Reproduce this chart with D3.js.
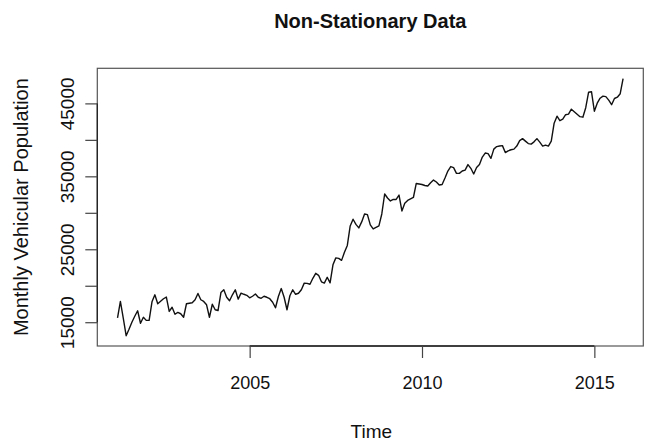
<!DOCTYPE html>
<html lang="en">

<head>
    <meta charset="utf-8" />
    <script src="https://d3js.org/d3.v7.min.js"></script>
    <title>Non-Stationary Data</title>
    <style>
        body {
            margin: 0;
            background: #fff;
        }

        * {
            font-family: 'Liberation Sans', Arial, sans-serif;
        }
    </style>
</head>

<body>
    <div id="chart"></div>

    <script>
        // monthly series, starts March 2001
        var startYear = 2001;
        var startMonth = 3;
        var vehicles = [
            15580, 17850, 15550, 13150, 14040, 15000, 15820, 16570, 14860, 15680, 15250, 15250,
            17800, 18760, 17530, 17870, 18220, 18450, 16480, 17050, 16090, 16340, 16160, 15680,
            17530, 17600, 17670, 18080, 18940, 18080, 17850, 17390, 15680, 17460, 16710, 16610,
            19060, 19450, 18420, 17940, 18760, 19450, 18170, 18990, 18830, 18690, 18350, 18560,
            18860, 18420, 18280, 18560, 18420, 18220, 17740, 16980, 18530, 19610, 18420, 16710,
            18630, 19450, 18830, 18970, 19450, 20360, 20330, 20200, 21020, 21700, 21430, 20540,
            20360, 21160, 20400, 22870, 23820, 23760, 23480, 24580, 25530, 28200, 29120, 28410,
            27930, 28750, 29840, 29750, 28340, 27790, 28000, 28200, 29840, 32580, 32030, 31620,
            31830, 31830, 32440, 30250, 31310, 31690, 31900, 32100, 34020, 33950, 33880, 33740,
            33670, 34120, 34490, 34220, 33810, 33880, 34770, 35730, 36340, 36200, 35410, 35410,
            35730, 35860, 36610, 36100, 35320, 36200, 36610, 37640, 38190, 38120, 37460, 38730,
            39080, 39150, 39210, 38260, 38500, 38640, 38730, 39150, 39900, 40170, 39830, 39490,
            39420, 39730, 40170, 39690, 39150, 39280, 39150, 39830, 42290, 43250, 42630, 42840,
            43450, 43520, 44210, 43860, 43520, 43180, 43110, 44410, 46530, 46600, 43930, 45030,
            45710, 45990, 45920, 45440, 44820, 45670, 45850, 46330, 48400
        ];
        var xTicks = [2005, 2010, 2015];
        var yTicks = [15000, 20000, 25000, 30000, 35000, 40000, 45000];
        var yLabels = [15000, 25000, 35000, 45000];

        var data = vehicles.map(function (v, i) {
            return { t: startYear + (startMonth - 1) / 12 + i / 12, v: v };
        });

        var width = 650, height = 444;
        // plot box (window.top is reserved, so m- prefix)
        var mLeft = 97.3, mRight = 643.3, mTop = 68.3, mBottom = 346;

        var svg = d3.select("#chart")
            .append("svg")
            .attr("width", width)
            .attr("height", height);

        // R style 4% padding on both axes
        var tExt = d3.extent(data, function (d) { return d.t; });
        var vExt = d3.extent(data, function (d) { return d.v; });
        var tPad = (tExt[1] - tExt[0]) * 0.04;
        var vPad = (vExt[1] - vExt[0]) * 0.04;

        var x = d3.scaleLinear()
            .domain([tExt[0] - tPad, tExt[1] + tPad])
            .range([mLeft, mRight]);

        var y = d3.scaleLinear()
            .domain([vExt[0] - vPad, vExt[1] + vPad])
            .range([mBottom, mTop]);

        var line = d3.line()
            .x(function (d) { return x(d.t); })
            .y(function (d) { return y(d.v); });

        svg.append("path")
            .datum(data)
            .attr("d", line)
            .attr("fill", "none")
            .attr("stroke", "#111")
            .attr("stroke-width", 1.4)
            .attr("stroke-linejoin", "round");

        svg.append("rect")
            .attr("x", mLeft)
            .attr("y", mTop)
            .attr("width", mRight - mLeft)
            .attr("height", mBottom - mTop)
            .attr("fill", "none")
            .attr("stroke", "#555")
            .attr("stroke-width", 1.2);

        var xAxis = svg.append("g")
            .attr("transform", "translate(0," + mBottom + ")")
            .call(d3.axisBottom(x).tickValues(xTicks).tickSize(12).tickSizeOuter(0).tickFormat(d3.format("d")));

        xAxis.select(".domain")
            .attr("d", "M" + x(xTicks[0]) + ",0H" + x(xTicks[xTicks.length - 1]))
            .attr("stroke", "#222")
            .attr("stroke-width", 1.3);
        xAxis.selectAll(".tick line").attr("stroke", "#444").attr("stroke-width", 1.2);
        xAxis.selectAll(".tick text")
            .attr("y", 42.5)
            .attr("dy", 0)
            .attr("fill", "#111")
            .style("font-size", "18px");

        var yAxis = svg.append("g")
            .attr("transform", "translate(" + mLeft + ",0)")
            .call(d3.axisLeft(y).tickValues(yTicks).tickSize(12).tickSizeOuter(0)
                .tickFormat(function (d) { return yLabels.indexOf(d) >= 0 ? d : ""; }));

        yAxis.select(".domain")
            .attr("d", "M0," + y(yTicks[0]) + "V" + y(yTicks[yTicks.length - 1]))
            .attr("stroke", "#222")
            .attr("stroke-width", 1.3);
        yAxis.selectAll(".tick line").attr("stroke", "#444").attr("stroke-width", 1.2);
        yAxis.selectAll(".tick text")
            .attr("x", 0)
            .attr("dy", 0)
            .attr("transform", "translate(-23,0) rotate(-90)")
            .attr("text-anchor", "middle")
            .attr("fill", "#111")
            .style("font-size", "19px");

        svg.append("text")
            .attr("x", (mLeft + mRight) / 2)
            .attr("y", 27.7)
            .attr("text-anchor", "middle")
            .style("font-size", "20px")
            .style("font-weight", "bold")
            .attr("fill", "#111")
            .text("Non-Stationary Data");

        svg.append("text")
            .attr("x", (mLeft + mRight) / 2 + 1)
            .attr("y", 438)
            .attr("text-anchor", "middle")
            .style("font-size", "19px")
            .attr("fill", "#111")
            .text("Time");

        svg.append("text")
            .attr("transform", "translate(27.5," + ((mTop + mBottom) / 2) + ") rotate(-90)")
            .attr("text-anchor", "middle")
            .style("font-size", "20px")
            .attr("fill", "#111")
            .text("Monthly Vehicular Population");
    </script>
</body>

</html>
